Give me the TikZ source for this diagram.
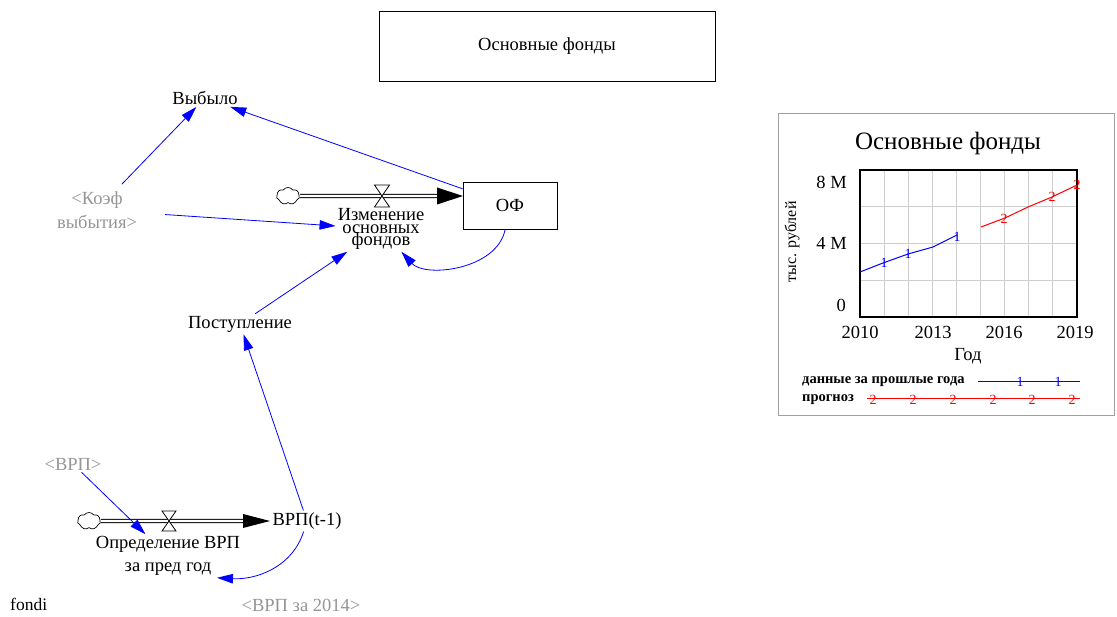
\documentclass[tikz,border=0pt]{standalone}
\usepackage{fontspec}
\setmainfont{Liberation Serif}
\usetikzlibrary{arrows.meta,shapes.symbols,calc}
\definecolor{lgray}{RGB}{150,150,150}
\definecolor{gridgray}{RGB}{205,205,205}
\definecolor{boxgray}{RGB}{160,160,160}
\definecolor{linkblue}{RGB}{0,0,255}
\definecolor{plotred}{RGB}{255,0,0}
\begin{document}
\begin{tikzpicture}[x=1pt,y=-1pt,
  lbl/.style={font=\fontsize{18.5}{23}\selectfont, inner sep=2pt, align=center},
  shadowlbl/.style={lbl, text=lgray},
  link/.style={draw=linkblue, line width=0.8pt, -{Triangle[length=16pt,width=9.5pt]}},
  pipe/.style={draw=black, line width=0.9pt, double=white, double distance=2.4pt},
  cloudnode/.style={cloud, cloud puffs=7, cloud puff arc=110, draw, fill=white, aspect=1.3, minimum width=23pt, minimum height=17pt, inner sep=0pt, line width=0.7pt},
  valve/.style={draw, fill=white, line width=0.8pt},
  mk/.style={font=\fontsize{14}{14}\selectfont, inner sep=0pt},
  axlbl/.style={font=\fontsize{18.5}{22}\selectfont, inner sep=0pt},
  leg/.style={font=\fontsize{14.5}{17}\selectfont\bfseries, inner sep=0pt, anchor=west}
]
\useasboundingbox (0,0) rectangle (1117,617);
\fill[white] (0,0) rectangle (1117,617);

% title box
\node[lbl, draw, line width=0.9pt, minimum width=336pt, minimum height=70pt] (title) at (547,46) {Основные фонды};

% variables
\node[lbl] (vyb) at (205,98) {Выбыло};
\node[shadowlbl, font=\fontsize{18.5}{24}\selectfont] (koef) at (97,210) {<Коэф\\выбытия>};
\node[lbl, font={\fontsize{18.5}{12.5}\selectfont\lineskiplimit=-30pt}] (izm) at (381,229) {Изменение\\основных\\фондов};
\node[lbl, draw, line width=0.9pt, minimum width=94pt, minimum height=47pt] (of) at (510,205.5) {ОФ};
\node[lbl] (post) at (240,324) {Поступление};
\node[lbl] (vrp) at (307,521) {ВРП(t-1)};
\node[lbl] (opr) at (168,556) {Определение ВРП\\за пред год};
\node[shadowlbl] (vrpin) at (73,464) {<ВРП>};
\node[shadowlbl] (vrp14) at (301,605) {<ВРП за 2014>};
\node[lbl, font=\fontsize{17.5}{20}\selectfont, anchor=west, inner sep=0pt] (fondi) at (10,604) {fondi};

% flow 1 : cloud -> OF
\node[cloudnode] (c1) at (288,196) {};
\coordinate (ofin) at (463,196);
\draw[pipe, shorten >=24pt] (c1.east) -- (ofin);
\fill (ofin) -- ++(-26,-8.5) -- ++(0,17) -- cycle;
\coordinate (v1) at (382,196);
\draw[valve] ($(v1)+(-7.5,-11)$) -- ++(15,0) -- ++(-15,22) -- ++(15,0) -- cycle;

% flow 2 : cloud -> VRP(t-1)
\node[cloudnode] (c2) at (89,521) {};
\coordinate (vrpinlet) at (270,521);
\draw[pipe, shorten >=24pt] (c2.east) -- (vrpinlet);
\fill (vrpinlet) -- ++(-27,-7) -- ++(0,14) -- cycle;
\coordinate (v2) at (169,521);
\draw[valve] ($(v2)+(-7,-10)$) -- ++(14,0) -- ++(-14,20) -- ++(14,0) -- cycle;

% links
\draw[link] (of) -- (vyb);
\draw[link, shorten <=7pt] (koef) -- (vyb);
\draw[link, shorten <=26pt] (koef) -- (izm);
\draw[link] (post) -- (izm);
\draw[link] (of) .. controls (497,270) and (425,278) .. (izm);
\draw[link] (vrp) -- (post);
\draw[link] (vrpin) -- (opr);
\draw[link] (vrp) .. controls (292,568) and (255,580) .. ($(opr.south)+(49,0)$);

% chart
\draw[boxgray, line width=1pt] (778,114) rectangle (1114,416);
\node[font=\fontsize{25}{28}\selectfont, inner sep=0pt] (ctitle) at (948,143) {Основные фонды};
\foreach \i in {1,...,8} \draw[gridgray, line width=1pt] ({860+\i*24.111},170) -- ({860+\i*24.111},317);
\foreach \v in {2,4,6} \draw[gridgray, line width=1pt] (860,{317-\v*18.375}) -- (1077,{317-\v*18.375});
\draw[line width=2pt] (860,170) rectangle (1077,317);
\node[axlbl, anchor=east] (y8) at (847,182) {8 M};
\node[axlbl, anchor=east] (y4) at (847,243) {4 M};
\node[axlbl, anchor=east] (y0) at (846,305) {0};
\node[axlbl] (x10) at (860,332) {2010};
\node[axlbl] (x13) at (933,332) {2013};
\node[axlbl] (x16) at (1004,332) {2016};
\node[axlbl] (x19) at (1075,332) {2019};
\node[axlbl] (xlab) at (968,356) {Год};
\node[font=\fontsize{16}{18}\selectfont, inner sep=0pt, rotate=90] (ylab) at (792,242) {тыс. рублей};

\draw[linkblue, line width=1pt] (860,272) -- (883,263) -- (908,254) -- (933,247) -- (957,235);
\draw[plotred, line width=1pt] (981,227) -- (1005,218) -- (1028,207) -- (1052,197) -- (1077,185);
\node[mk, text=linkblue] (b1) at (884,263) {1};
\node[mk, text=linkblue] (b2) at (908,254) {1};
\node[mk, text=linkblue] (b3) at (957,237) {1};
\node[mk, text=plotred] (r1) at (1004,219) {2};
\node[mk, text=plotred] (r2) at (1052,197) {2};
\node[mk, text=plotred] (r3) at (1077,185) {2};

% legend
\node[leg] (leg1) at (802,382) {данные за прошлые года};
\node[leg] (leg2) at (802,400) {прогноз};
\draw[linkblue, line width=1pt] (978,382) -- (1080,382);
\draw[plotred, line width=1pt] (867,399) -- (1080,399);
\node[mk, text=linkblue] (lb1) at (1020,382) {1};
\node[mk, text=linkblue] (lb2) at (1058,382) {1};
\foreach \x [count=\k] in {873,913,953,993,1032,1072}
  \node[mk, text=plotred] (lr\k) at (\x,400) {2};
\end{tikzpicture}
\end{document}
